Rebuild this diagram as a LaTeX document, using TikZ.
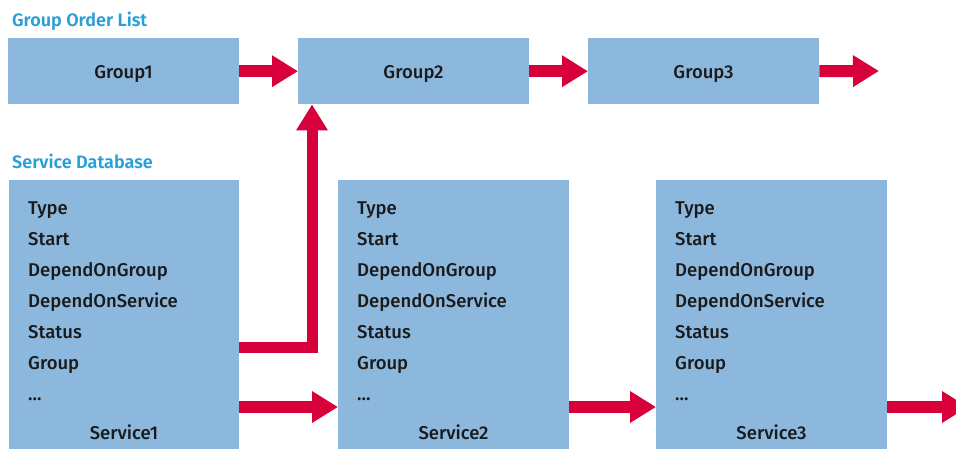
\documentclass[tikz,border=0pt]{standalone}
\usepackage{fontspec}
\setmainfont{Fira Sans}[UprightFont={* Medium},BoldFont={* SemiBold}]
\usetikzlibrary{arrows.meta}
\definecolor{boxfill}{HTML}{8CB8DE}
\definecolor{arrowred}{HTML}{D7003A}
\definecolor{titleblue}{HTML}{2A9ED6}
\definecolor{txt}{HTML}{1A1A1A}
\begin{document}
\begin{tikzpicture}[x=1pt,y=-1pt,
  box/.style={fill=boxfill,draw=none,inner sep=0pt,anchor=north west},
  gbox/.style={box,minimum width=231pt,minimum height=66pt},
  sbox/.style={box,minimum width=231pt,minimum height=272pt},
  title/.style={anchor=base west,inner sep=0pt,text=titleblue,font=\fontsize{18}{18}\selectfont\bfseries},
  lbl/.style={anchor=base west,inner sep=0pt,text=txt,font=\fontsize{18.5}{18.5}\selectfont},
  clbl/.style={anchor=base,inner sep=0pt,text=txt,font=\fontsize{18.5}{18.5}\selectfont},
  redarrow/.style={draw=arrowred,line width=12pt,-{Triangle[length=26pt,width=30pt]}}
]
\useasboundingbox (0,0) rectangle (956,448);
\clip (0,0) rectangle (956,448);

\node[title] (t1) at (12,26) {Group Order List};
\node[title] (t2) at (12,168) {Service Database};

\node[gbox] (g1) at (8,38) {};
\node[gbox] (g2) at (298,38) {};
\node[gbox] (g3) at (588,38) {};
\node[clbl] (g1l) at (123.5,78) {Group1};
\node[clbl] (g2l) at (413.5,78) {Group2};
\node[clbl] (g3l) at (703.5,78) {Group3};

\node[sbox,minimum width=230pt] (s1) at (9,180) {};
\node[sbox] (s2) at (338,180) {};
\node[sbox] (s3) at (656,180) {};

\foreach \n/\xx/\cx in {1/28/124, 2/357/453.5, 3/675/771.5}{
  \node[lbl] (s\n a) at (\xx,214) {Type};
  \node[lbl] (s\n b) at (\xx,245) {Start};
  \node[lbl] (s\n c) at (\xx,276) {DependOnGroup};
  \node[lbl] (s\n d) at (\xx,307) {DependOnService};
  \node[lbl] (s\n e) at (\xx,338) {Status};
  \node[lbl] (s\n f) at (\xx,369) {Group};
  \node[lbl] (s\n g) at (\xx,400) {...};
  \node[clbl] (s\n h) at (\cx,439) {Service\n};
}

\coordinate (g3out) at (879,71);
\coordinate (s3out) at (968,407);

\draw[redarrow] (g1.east) -- (g2.west);
\draw[redarrow] (g2.east) -- (g3.west);
\draw[redarrow] (g3.east) -- (g3out);

\draw[redarrow,line width=11pt] ([yshift=-167pt]s1.north east) -| ([xshift=14pt]g2.south west);
\draw[redarrow] ([yshift=-227pt]s1.north east) -- ([yshift=-227pt]s2.north west);
\draw[redarrow] ([yshift=-227pt]s2.north east) -- ([yshift=-227pt]s3.north west);
\draw[redarrow] ([yshift=-227pt]s3.north east) -- (s3out);
\end{tikzpicture}
\end{document}
